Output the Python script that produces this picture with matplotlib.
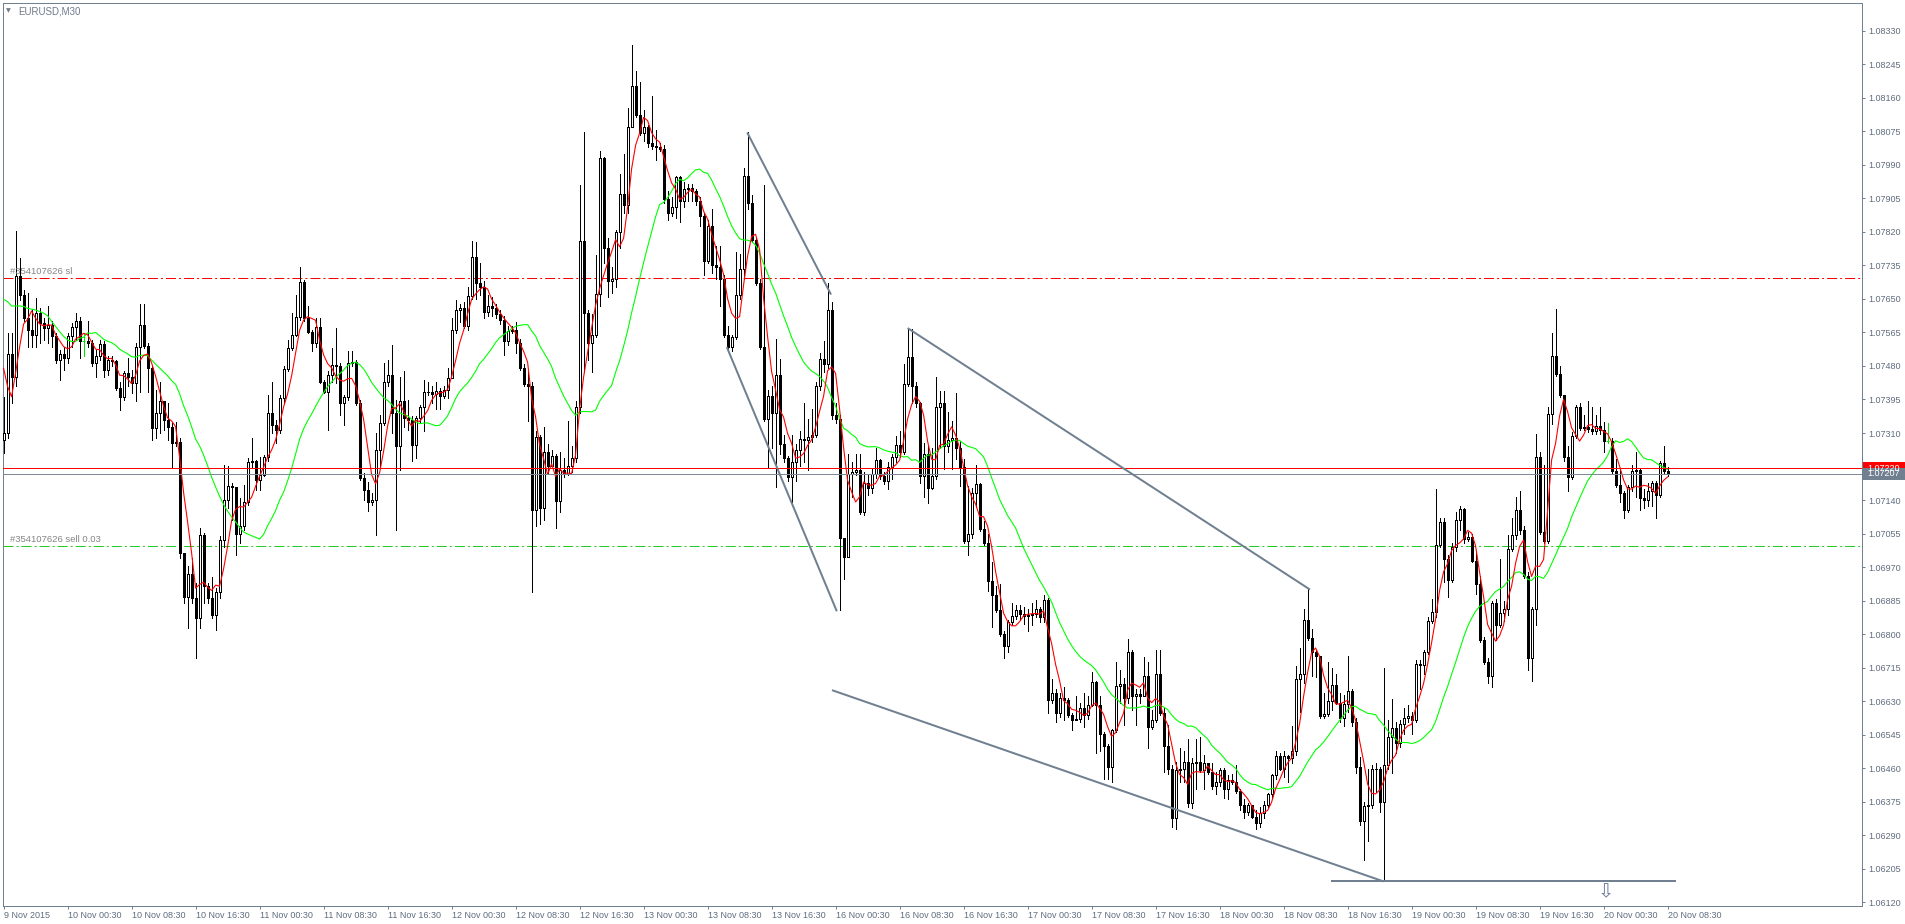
import numpy as np
import pandas as pd
import matplotlib
matplotlib.use("Agg")
import matplotlib.pyplot as plt
import matplotlib.transforms as mtransforms
from matplotlib.patches import Rectangle
from matplotlib.collections import LineCollection

plt.rcParams['font.family'] = ['Liberation Sans', 'DejaVu Sans']
plt.rcParams['lines.scale_dashes'] = False

# ---------------- data (prices in units of 1e-5) ----------------
symbol_title = "EURUSD,M30"
first_open_e5 = 107293

closes_e5 = [
107309, 107511, 107453, 107707, 107660, 107601, 107571, 107559, 107614, 107588,
107576, 107584, 107555, 107495, 107511, 107500, 107556, 107580, 107594, 107542,
107542, 107538, 107487, 107504, 107535, 107470, 107495, 107493, 107424, 107402,
107462, 107453, 107436, 107529, 107583, 107531, 107474, 107322, 107360, 107390,
107343, 107326, 107284, 107287, 107005, 106893, 106953, 106891, 106841, 107052,
106921, 106891, 106849, 106908, 107039, 107141, 107176, 107174, 107053, 107073,
107136, 107236, 107238, 107191, 107204, 107248, 107360, 107331, 107318, 107400,
107472, 107525, 107559, 107604, 107693, 107601, 107567, 107538, 107580, 107440,
107415, 107457, 107483, 107479, 107386, 107402, 107487, 107489, 107386, 107195,
107166, 107136, 107141, 107267, 107335, 107440, 107457, 107360, 107276, 107390,
107348, 107343, 107280, 107348, 107377, 107413, 107415,
107410, 107417, 107405, 107420, 107449, 107572, 107622, 107627, 107582, 107658,
107755, 107691, 107681, 107617, 107632, 107627, 107612, 107597, 107543, 107568,
107572, 107538, 107474, 107434, 107430, 107114, 107301, 107119, 107262, 107227,
107252, 107138, 107217, 107207, 107227, 107247, 107375, 107796, 107614, 107538,
107558, 107663, 108007, 107780, 107696, 107700, 107819, 107916, 107888, 108087,
108189, 108117, 108071, 108087, 108046, 108038, 108036, 108031, 107903, 107868,
107883, 107959, 107898, 107928, 107932, 107923, 107898, 107861, 107747, 107834,
107735, 107730, 107701, 107558, 107528, 107553, 107661, 107725, 107962, 107893,
107799, 107691, 107528, 107346, 107405, 107360, 107456, 107282, 107247, 107198,
107237, 107267, 107296, 107292, 107301, 107306, 107429, 107498, 107484, 107622,
107355, 107346, 107045, 106995, 107207, 107212, 107217, 107109,
107184, 107171, 107206, 107241, 107202, 107189, 107223, 107250, 107280, 107263,
107433, 107503, 107429, 107385, 107202, 107258, 107171, 107202, 107376, 107385,
107276, 107293, 107298, 107272, 107223, 107036, 107053, 107158, 107180, 107066,
107031, 106935, 106900, 106861, 106800, 106769, 106831, 106845, 106861, 106852,
106845, 106848, 106852, 106865, 106844, 106887, 106634, 106652, 106599, 106638,
106634, 106595, 106582, 106586, 106612, 106595, 106621, 106678, 106621, 106547,
106516, 106464, 106556, 106669, 106673, 106638, 106756, 106643, 106647, 106643,
106695, 106564, 106582, 106700, 106599, 106516, 106459, 106333, 106455, 106458,
106477, 106372, 106473, 106477, 106455, 106473, 106451, 106416, 106425, 106455,
106407, 106429, 106426, 106403, 106368, 106350, 106368, 106337, 106320, 106346,
106368, 106394, 106442, 106490, 106459, 106490, 106487,
106503, 106686, 106700, 106836, 106789, 106755, 106745, 106592, 106597, 106631,
106671, 106626, 106587, 106622, 106656, 106577, 106464, 106326, 106365, 106368,
106459, 106457, 106375, 106469, 106538, 106562, 106523, 106572, 106587, 106592,
106582, 106725, 106723, 106755, 106834, 106855, 107026, 107085, 106991, 106937,
107021, 107090, 107118, 107041, 107046, 106986, 106927, 106784, 106730, 106695,
106878, 106824, 106853, 106865, 107016, 107051, 107115, 107065, 106947, 106740,
106863, 107248, 107060, 107036, 107358, 107506, 107460, 107406, 107248, 107199,
107302, 107376, 107322, 107325, 107319, 107315, 107329, 107317, 107289, 107289,
107213, 107179, 107159, 107115, 107174, 107213, 107216, 107144, 107140, 107164,
107184, 107154, 107235, 107213, 107207]

highs_e5 = [
107402, 107563, 107563, 107822, 107753, 107673, 107664, 107622, 107652, 107626,
107601, 107632, 107593, 107563, 107521, 107529, 107563, 107588, 107614, 107605,
107563, 107593, 107546, 107521, 107546, 107542, 107504, 107504, 107495, 107440,
107466, 107500, 107470, 107538, 107637, 107637, 107538, 107479, 107419, 107440,
107390, 107386, 107335, 107339, 107297, 107005, 106972, 106993, 106929, 107069,
107056, 106929, 106946, 106917, 107048, 107229, 107227, 107183, 107174, 107145,
107179, 107246, 107297, 107242, 107250, 107255, 107407, 107440, 107343, 107407,
107479, 107546, 107614, 107660, 107730, 107698, 107631, 107571, 107601, 107601,
107445, 107466, 107525, 107576, 107487, 107407, 107517, 107517, 107495, 107394,
107208, 107187, 107157, 107310, 107356, 107487, 107495, 107533, 107394, 107453,
107466, 107394, 107352, 107352, 107381, 107445, 107440,
107429, 107439, 107425, 107429, 107474, 107602, 107646, 107637, 107642, 107681,
107796, 107794, 107740, 107696, 107661, 107656, 107637, 107622, 107607, 107582,
107582, 107592, 107548, 107484, 107464, 107439, 107316, 107306, 107326, 107281,
107267, 107257, 107262, 107247, 107341, 107277, 107390, 107940, 108073, 107622,
107612, 107762, 108026, 108011, 107804, 107730, 107824, 107967, 108018, 108135,
108293, 108228, 108199, 108130, 108090, 108164, 108078, 108046, 108041, 107923,
107908, 107962, 107962, 107947, 107942, 107942, 107928, 107908, 107868, 107849,
107878, 107785, 107785, 107711, 107582, 107558, 107770, 107765, 107982, 108074,
107913, 107804, 107701, 107939, 107420, 107429, 107548, 107498, 107306, 107252,
107306, 107281, 107316, 107385, 107346, 107370, 107439, 107513, 107543, 107691,
107642, 107385, 107355, 107045, 107257, 107237, 107257, 107257,
107210, 107206, 107219, 107272, 107245, 107210, 107237, 107258, 107302, 107315,
107485, 107577, 107573, 107440, 107389, 107285, 107280, 107272, 107451, 107416,
107416, 107363, 107341, 107411, 107289, 107245, 107175, 107171, 107230, 107184,
107088, 107053, 106983, 106922, 106927, 106809, 106835, 106879, 106874, 106874,
106870, 106865, 106879, 106887, 106870, 106900, 106892, 106686, 106660, 106652,
106665, 106638, 106599, 106643, 106625, 106652, 106643, 106704, 106682, 106643,
106551, 106521, 106560, 106730, 106708, 106690, 106787, 106761, 106660, 106660,
106743, 106730, 106608, 106761, 106761, 106612, 106569, 106468, 106477, 106512,
106503, 106534, 106486, 106534, 106538, 106494, 106473, 106473, 106451, 106460,
106460, 106442, 106446, 106468, 106407, 106381, 106372, 106368, 106355, 106363,
106377, 106398, 106446, 106503, 106499, 106503, 106494,
106567, 106720, 106765, 106863, 106917, 106814, 106760, 106745, 106651, 106730,
106715, 106700, 106651, 106646, 106745, 106661, 106587, 106488, 106375, 106459,
106469, 106474, 106464, 106715, 106582, 106636, 106577, 106582, 106612, 106621,
106602, 106735, 106735, 106760, 106843, 106888, 107169, 107095, 107095, 107001,
107031, 107110, 107125, 107120, 107060, 107055, 107011, 106947, 106794, 106740,
106883, 106888, 106991, 106883, 107051, 107095, 107149, 107164, 107075, 106957,
106868, 107307, 107263, 107228, 107376, 107563, 107625, 107480, 107406, 107277,
107312, 107381, 107386, 107356, 107391, 107376, 107356, 107376, 107337, 107335,
107297, 107243, 107218, 107164, 107179, 107228, 107263, 107218, 107169, 107184,
107189, 107189, 107238, 107277, 107223]

lows_e5 = [
107259, 107297, 107386, 107428, 107648, 107593, 107529, 107529, 107529, 107538,
107546, 107538, 107529, 107487, 107445, 107470, 107487, 107529, 107546, 107500,
107504, 107529, 107479, 107453, 107495, 107453, 107457, 107479, 107419, 107369,
107394, 107428, 107411, 107390, 107415, 107525, 107415, 107293, 107297, 107310,
107318, 107293, 107221, 107276, 106993, 106879, 106815, 106879, 106739, 106815,
106879, 106879, 106840, 106811, 106891, 107022, 107119, 107090, 107001, 107031,
107064, 107128, 107225, 107166, 107166, 107200, 107238, 107310, 107284, 107310,
107386, 107466, 107521, 107555, 107597, 107593, 107563, 107517, 107529, 107436,
107411, 107318, 107440, 107436, 107356, 107331, 107394, 107479, 107381, 107191,
107141, 107111, 107128, 107052, 107225, 107331, 107428, 107310, 107064, 107217,
107326, 107318, 107238, 107246, 107335, 107314, 107407,
107385, 107370, 107370, 107400, 107400, 107449, 107563, 107592, 107577, 107572,
107651, 107651, 107661, 107602, 107607, 107607, 107602, 107587, 107508, 107533,
107563, 107513, 107469, 107429, 107341, 106907, 107074, 107079, 107089, 107207,
107227, 107069, 107109, 107198, 107203, 107212, 107237, 107360, 107464, 107494,
107464, 107553, 107632, 107740, 107656, 107666, 107681, 107780, 107868, 107868,
108085, 108110, 108066, 108051, 108036, 108031, 108002, 108026, 107893, 107849,
107859, 107854, 107844, 107883, 107898, 107898, 107888, 107834, 107711, 107740,
107716, 107701, 107632, 107553, 107518, 107518, 107548, 107651, 107701, 107878,
107794, 107686, 107523, 107341, 107222, 107272, 107173, 107257, 107237, 107188,
107134, 107188, 107227, 107237, 107217, 107286, 107301, 107420, 107464, 107474,
107346, 107336, 106862, 106941, 106995, 107148, 107203, 107104,
107101, 107154, 107158, 107197, 107193, 107180, 107167, 107193, 107237, 107250,
107258, 107429, 107385, 107376, 107184, 107149, 107132, 107167, 107193, 107272,
107219, 107263, 107219, 107245, 107175, 107031, 107001, 107044, 107123, 107062,
107027, 106909, 106817, 106857, 106796, 106739, 106756, 106822, 106839, 106839,
106826, 106809, 106822, 106844, 106831, 106831, 106599, 106625, 106577, 106590,
106582, 106590, 106556, 106582, 106577, 106564, 106586, 106617, 106499, 106503,
106433, 106433, 106425, 106551, 106625, 106569, 106625, 106608, 106569, 106625,
106643, 106512, 106560, 106577, 106595, 106451, 106446, 106311, 106307, 106425,
106425, 106363, 106359, 106407, 106451, 106407, 106446, 106407, 106394, 106416,
106385, 106381, 106420, 106398, 106355, 106333, 106342, 106333, 106307, 106311,
106333, 106359, 106385, 106433, 106455, 106438, 106425,
106474, 106493, 106602, 106676, 106784, 106695, 106691, 106587, 106587, 106592,
106607, 106622, 106577, 106567, 106602, 106567, 106449, 106316, 106227, 106276,
106360, 106400, 106350, 106173, 106459, 106449, 106498, 106513, 106547, 106577,
106547, 106577, 106661, 106700, 106750, 106829, 106843, 107021, 106932, 106893,
106932, 107011, 107065, 107031, 107036, 106982, 106903, 106779, 106725, 106676,
106666, 106784, 106819, 106834, 106848, 107011, 107041, 107055, 106942, 106710,
106681, 106824, 107055, 107031, 107031, 107332, 107455, 107401, 107238, 107164,
107194, 107297, 107317, 107317, 107312, 107307, 107307, 107307, 107263, 107285,
107208, 107174, 107134, 107095, 107110, 107164, 107149, 107115, 107120, 107125,
107125, 107095, 107149, 107208, 107200]

# moving-average values visible before enough bars exist on screen
ma_slow_head_e5 = [107649, 107643, 107632, 107632, 107632, 107631, 107626, 107624, 107622, 107618,
                   107614, 107607, 107593, 107580, 107567, 107555, 107546, 107542, 107542, 107550]
ma_fast_head_e5 = [107474, 107428, 107402, 107462]
ma_fast_period = 5
ma_slow_period = 21

x_tick_labels = ["9 Nov 2015", "10 Nov 00:30", "10 Nov 08:30", "10 Nov 16:30", "11 Nov 00:30",
                 "11 Nov 08:30", "11 Nov 16:30", "12 Nov 00:30", "12 Nov 08:30", "12 Nov 16:30",
                 "13 Nov 00:30", "13 Nov 08:30", "13 Nov 16:30", "16 Nov 00:30", "16 Nov 08:30",
                 "16 Nov 16:30", "17 Nov 00:30", "17 Nov 08:30", "17 Nov 16:30", "18 Nov 00:30",
                 "18 Nov 08:30", "18 Nov 16:30", "19 Nov 00:30", "19 Nov 08:30", "19 Nov 16:30",
                 "20 Nov 00:30", "20 Nov 08:30"]
bars_per_label = 16

price_ticks = [1.06120, 1.06205, 1.06290, 1.06375, 1.06460, 1.06545, 1.06630, 1.06715,
               1.06800, 1.06885, 1.06970, 1.07055, 1.07140, 1.07310, 1.07395, 1.07480,
               1.07565, 1.07650, 1.07735, 1.07820, 1.07905, 1.07990, 1.08075, 1.08160,
               1.08245, 1.08330]

sl_price = 1.07703
sell_price = 1.07023
ask_price = 1.07220
bid_price = 1.07207
sl_label = "#354107626 sl"
sell_label = "#354107626 sell 0.03"

# drawn trend lines: (bar index, price) pairs
trend_lines = [((185.9, 1.08072), (206.85, 1.07661)),
               ((180.8, 1.07528), (208.3, 1.06858)),
               ((226.0, 1.07576), (326.6, 1.06913)),
               ((207.1, 1.06658), (345.0, 1.06173)),
               ((331.9, 1.06173), (418.0, 1.06173))]
arrow_pos = (400.6, 1.06146)

# ---------------- arrays ----------------
N = min(len(closes_e5), len(highs_e5), len(lows_e5))
close_i = np.array(closes_e5[:N])
open_i = np.concatenate([[first_open_e5], close_i[:-1]])
close = close_i / 1e5
opn = open_i / 1e5
high = np.array(highs_e5[:N]) / 1e5
low = np.array(lows_e5[:N]) / 1e5
high = np.maximum(high, np.maximum(opn, close))
low = np.minimum(low, np.minimum(opn, close))
x = np.arange(N)

s = pd.Series(close)
ma_fast = s.rolling(ma_fast_period).mean().to_numpy()
ma_fast[:len(ma_fast_head_e5)] = np.array(ma_fast_head_e5) / 1e5
ma_slow = s.rolling(ma_slow_period).mean().to_numpy()
ma_slow[:len(ma_slow_head_e5)] = np.array(ma_slow_head_e5) / 1e5

# ---------------- figure ----------------
W, H, DPI = 1905, 924, 100
fig = plt.figure(figsize=(W / DPI, H / DPI), dpi=DPI, facecolor='white')
ax_l, ax_r, ax_t, ax_b = 2.7, 1862.0, 2.7, 905.7
ax = fig.add_axes([ax_l / W, 1 - ax_b / H, (ax_r - ax_l) / W, (ax_b - ax_t) / H])
ax.set_facecolor('white')
xmin, xmax = -0.225, 464.6
ymin, ymax = 1.061115, 1.084010
ax.set_xlim(xmin, xmax)
ax.set_ylim(ymin, ymax)

fg = '#708090'
lab_col = '#5f6c7e'
PX = 0.72  # one pixel in points

# wicks
doji = close_i == open_i
segs = [[(xi, lo), (xi, hi)] for xi, lo, hi in zip(x, low, high)]
wick_cols = ['#00e000' if d else 'black' for d in doji]
ax.add_collection(LineCollection(segs, colors=wick_cols, linewidths=PX, antialiaseds=False, zorder=3))

bull = close_i > open_i
bear = close_i < open_i
ax.bar(x[bull], (close - opn)[bull], bottom=opn[bull], width=0.5, facecolor='white',
       edgecolor='black', linewidth=PX, antialiased=False, zorder=4)
ax.bar(x[bear], (opn - close)[bear], bottom=close[bear], width=0.5, facecolor='black',
       edgecolor='black', linewidth=PX, antialiased=False, zorder=4)
ax.hlines(close[doji], x[doji] - 0.375, x[doji] + 0.375, colors='#00e000', linewidth=PX, zorder=4)

# moving averages
ax.plot(x, ma_slow, color='#00ff00', lw=0.8, zorder=5)
ax.plot(x, ma_fast, color='#ff0000', lw=0.8, zorder=6)

# order lines
dashdot = (0, (7.2, 2.2, 1.4, 2.2))
ax.axhline(sl_price, color='#ff0000', lw=PX, linestyle=dashdot, zorder=2)
ax.axhline(sell_price, color='#22cc22', lw=PX, linestyle=dashdot, zorder=2)
ax.annotate(sl_label, xy=(1.6, sl_price), xytext=(0, 1.5), textcoords='offset points',
            ha='left', va='bottom', fontsize=6.8, color='#858585', zorder=7)
ax.annotate(sell_label, xy=(1.6, sell_price), xytext=(0, 1.5), textcoords='offset points',
            ha='left', va='bottom', fontsize=6.8, color='#858585', zorder=7)

# bid / ask lines
ax.axhline(ask_price, color='#ff0000', lw=PX, zorder=7)
ax.axhline(bid_price, color='#7f8994', lw=PX, zorder=7)

# trend lines
for (x0, p0), (x1, p1) in trend_lines:
    ax.plot([x0, x1], [p0, p1], color=fg, lw=2 * PX, solid_capstyle='butt', zorder=8)
ax.text(arrow_pos[0], arrow_pos[1], '\u21e9', fontsize=14, color='#6b7b98', ha='center',
        va='center', family='DejaVu Sans', zorder=8)

# axes styling
for sp in ax.spines.values():
    sp.set_color(fg)
    sp.set_linewidth(PX)
ax.set_xticks([bars_per_label * k for k in range(len(x_tick_labels))])
ax.set_xticklabels(x_tick_labels, ha='left')
ax.tick_params(axis='x', direction='out', length=2.4, width=PX, color=fg, pad=1.6,
               labelsize=6.5, labelcolor=lab_col)
ax.yaxis.tick_right()
ax.set_yticks(price_ticks)
ax.set_yticklabels([f'{p:.5f}' for p in price_ticks])
ax.tick_params(axis='y', direction='out', length=2.4, width=PX, color=fg, pad=1.8,
               labelsize=6.5, labelcolor=lab_col)

# price boxes on the right scale (bid box drawn over the ask box, as in the terminal)
trans = mtransforms.blended_transform_factory(ax.transAxes, ax.transData)
ax_w_px = ax_r - ax_l
data_per_px = (ymax - ymin) / (ax_b - ax_t)
for price, col in [(ask_price, '#ff0000'), (bid_price, '#708090')]:
    ax.add_patch(Rectangle((1 + 1.0 / ax_w_px, price - 6 * data_per_px), 44.0 / ax_w_px,
                           12 * data_per_px, transform=trans, facecolor=col, edgecolor='none',
                           clip_on=False, zorder=20))
    ax.text(1 + 5.0 / ax_w_px, price, f'{price:.5f}', transform=trans, color='white',
            fontsize=6.5, ha='left', va='center', clip_on=False, zorder=21)

# title
fig.text(8 / W, 1 - 11 / H, '\u25bc', fontsize=4.5, color='#6f7a88', ha='center', va='center',
         family='DejaVu Sans')
fig.text(18 / W, 1 - 11 / H, symbol_title, fontsize=7, color='#6d7a8c', ha='left', va='center')

fig.savefig('out.png', dpi=DPI, facecolor='white')
